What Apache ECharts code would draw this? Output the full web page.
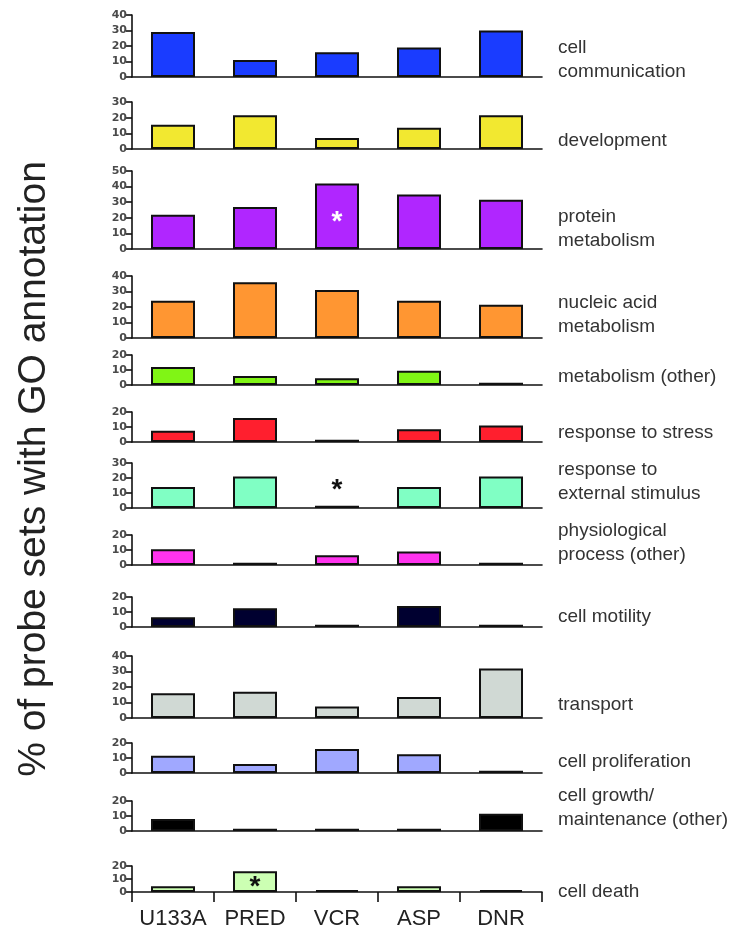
<!DOCTYPE html>
<html>
<head>
<meta charset="utf-8">
<script src="https://cdn.jsdelivr.net/npm/echarts@6/dist/echarts.min.js"></script>
<style>
html,body{margin:0;padding:0;background:#fff;}
#chart{width:738px;height:930px;}
</style>
</head>
<body>
<div id="chart"></div>
<script>
// ---- data ----
const categories = ['U133A', 'PRED', 'VCR', 'ASP', 'DNR'];
const goTerms = [
  'cell\ncommunication', 'development', 'protein\nmetabolism', 'nucleic acid\nmetabolism',
  'metabolism (other)', 'response to stress', 'response to\nexternal stimulus',
  'physiological\nprocess (other)', 'cell motility', 'transport', 'cell proliferation',
  'cell growth/\nmaintenance (other)', 'cell death'
];
const cellCommunication   = [29, 11, 16, 19, 30];
const development         = [15.5, 21.5, 7, 13.5, 21.5];
const proteinMetabolism   = [22, 27, 42, 35, 31.5];
const nucleicAcidMetab    = [24, 36, 31, 24, 21.5];
const metabolismOther     = [12, 6, 4.5, 9.5, 1.5];
const responseToStress    = [7.5, 16, 1.5, 8.5, 11];
const responseExternal    = [14, 21, 1.5, 14, 21];
const physiologicalOther  = [10.5, 1.5, 6.5, 9, 1.5];
const cellMotility        = [6.5, 12.5, 1.5, 14, 1.5];
const transport           = [16, 17, 7.5, 13.5, 32];
const cellProliferation   = [11.5, 6, 16, 12.5, 1.5];
const cellGrowthOther     = [8, 1.5, 1.5, 1.5, 11.5];
const cellDeath           = [4.5, 16, 1.5, 4.5, 1.5];
const axisMax = [40, 30, 50, 40, 20, 20, 30, 20, 20, 40, 20, 20, 20];
const yAxisTitle = '% of probe sets with GO annotation';
// significance marks: [panel index, category]
const significant = [[2, 'VCR'], [6, 'VCR'], [12, 'PRED']];

const panelValues = [cellCommunication, development, proteinMetabolism, nucleicAcidMetab,
  metabolismOther, responseToStress, responseExternal, physiologicalOther, cellMotility,
  transport, cellProliferation, cellGrowthOther, cellDeath];

// ---- layout / style ----
const panelTop  = [15, 102, 171, 276, 355, 412, 463, 535, 597, 656, 743, 801, 866];
const panelZero = [77, 149, 249, 338, 385, 442, 508, 565, 627, 718, 773, 831, 895];
const labelY    = [60, 141, 229, 315, 377, 433, 482, 543, 617, 705, 762, 808, 892];
const colors = ['#1a3cff', '#f2e830', '#b026ff', '#ff9632', '#80f515', '#ff1f2e', '#80ffc4',
  '#ff33ee', '#000030', '#d0d9d4', '#a0a8ff', '#000000', '#ccffb3'];
const starStyle = {
  2: {color: '#ffffff', position: 'inside', offset: [0, 6]},
  6: {color: '#111111', position: 'top', distance: 4, offset: [0, -11]},
  12: {color: '#111111', position: 'inside', offset: [0, 6]}
};
const FONT = '"Liberation Sans", Arial, Helvetica, sans-serif';

const chart = echarts.init(document.getElementById('chart'), null, {renderer: 'canvas'});
const grids = [], xAxes = [], yAxes = [], series = [], graphics = [];
const n = panelValues.length;
for (let i = 0; i < n; i++) {
  const last = i === n - 1;
  grids.push({left: 132, right: 196, top: panelTop[i], height: panelZero[i] - panelTop[i]});
  xAxes.push({
    type: 'category', gridIndex: i, data: categories,
    axisLine: {show: true, lineStyle: {color: '#111', width: 1.6}},
    axisTick: {show: last, length: 10, lineStyle: {color: '#111', width: 1.6}},
    axisLabel: {show: last, interval: 0, hideOverlap: false, fontFamily: FONT, fontSize: 22,
      color: '#222', margin: 16}
  });
  yAxes.push({
    type: 'value', gridIndex: i, min: 0, max: axisMax[i], interval: 10,
    splitLine: {show: false},
    axisLine: {show: true, lineStyle: {color: '#111', width: 1.6}},
    axisTick: {show: true, length: 6, lineStyle: {color: '#111', width: 1.6}},
    axisLabel: {fontFamily: '"DejaVu Sans", sans-serif', fontWeight: 'bold', fontSize: 11,
      color: '#4a4a4a', margin: 5}
  });
  const data = panelValues[i].map((v, j) => {
    const item = {value: v};
    const sig = significant.find(s => s[0] === i && s[1] === categories[j]);
    if (sig) {
      const st = starStyle[i];
      item.label = Object.assign({show: true, formatter: '*', fontFamily: FONT,
        fontSize: 28, fontWeight: 'bold', verticalAlign: 'middle'}, st);
    }
    return item;
  });
  series.push({
    type: 'bar', xAxisIndex: i, yAxisIndex: i, data: data, barWidth: 44,
    itemStyle: {color: colors[i], borderColor: '#111', borderWidth: 2},
    silent: true, animation: false
  });
  graphics.push({
    type: 'text', left: 558, top: labelY[i] - (goTerms[i].includes('\n') ? 24 : 12),
    style: {text: goTerms[i], font: '19px ' + FONT, fill: '#333', lineHeight: 24}
  });
}
graphics.push({
  type: 'text', x: 34, y: 469, rotation: Math.PI / 2,
  style: {text: yAxisTitle, font: '39px ' + FONT, fill: '#222', textAlign: 'center',
    textVerticalAlign: 'middle'}
});

chart.setOption({
  animation: false,
  grid: grids, xAxis: xAxes, yAxis: yAxes, series: series, graphic: graphics
});
</script>
</body>
</html>
